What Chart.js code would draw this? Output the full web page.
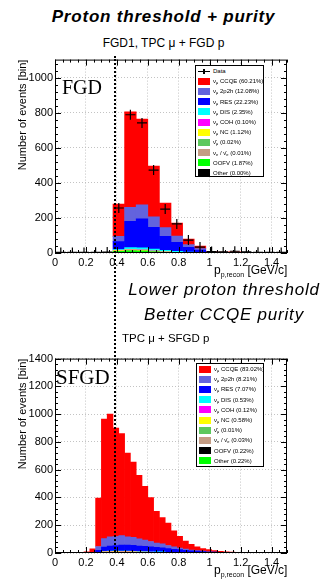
<!DOCTYPE html>
<html lang="en">
<head>
<meta charset="UTF-8">
<title>Proton threshold + purity</title>
<script src="https://cdn.jsdelivr.net/npm/chart.js"></script>
<style>
  body { margin: 0; background: #fff; }
  #page { position: relative; width: 325px; height: 579px; overflow: hidden; font-family: "Liberation Sans", Arial, sans-serif; color: #000; }
  canvas { position: absolute; left: 0; }
  .txt { position: absolute; line-height: 1; white-space: nowrap; }
  .big { font-size: 17px; font-style: italic; letter-spacing: 0.8px; text-align: center; }
  .det { font-family: "Liberation Serif", "Times New Roman", serif; }
  .xt { font-size: 12px; }
  .xt sub { font-size: 7px; vertical-align: -3px; }
  #vline { position: absolute; left: 114px; top: 56px; height: 496px; width: 0; border-left: 2px dotted #000; }
  .leg { position: absolute; border: 1px solid #000; background: #fff; font-size: 6px; box-sizing: border-box; }
  .leg .row { position: relative; padding-left: 17px; white-space: nowrap; }
  .leg .sw { position: absolute; left: 2px; width: 12px; height: 7px; }
  .leg sub { font-size: 4px; vertical-align: -1px; line-height: 0; }
  .dmark { position: absolute; left: 2px; width: 12px; height: 1px; background: #000; }
  .dmark::after { content: ""; position: absolute; left: 5px; top: -2px; width: 2px; height: 5px; background: #000; }
</style>
</head>
<body>
<div id="page">
  <canvas id="fgdChart" width="325" height="229" style="top:51px"></canvas>
  <canvas id="sfgdChart" width="325" height="229" style="top:350px"></canvas>

  <div class="txt big" style="left:0;top:8px;width:327px;font-weight:bold">Proton threshold + purity</div>
  <div class="txt" style="left:0;top:37px;width:327px;text-align:center;font-size:12px">FGD1, TPC μ + FGD p</div>
  <div class="txt det" style="left:62px;top:77px;font-size:20px">FGD</div>
  <div class="txt xt" style="left:214px;top:264px">p<sub>p,recon</sub> [GeV/c]</div>

  <div class="txt big" style="left:114px;top:281px;width:220px">Lower proton threshold</div>
  <div class="txt big" style="left:114px;top:306px;width:220px">Better CCQE purity</div>
  <div class="txt" style="left:122px;top:333px;font-size:11.5px">TPC μ + SFGD p</div>
  <div class="txt det" style="left:56px;top:367px;font-size:21px">SFGD</div>
  <div class="txt xt" style="left:214px;top:564px">p<sub>p,recon</sub> [GeV/c]</div>

  <div id="vline"></div>
  <div class="leg" id="legFGD" style="left:195px;top:65px;width:69px;height:112px"></div>
  <div class="leg" id="legSFGD" style="left:196px;top:363px;width:68px;height:104px"></div>
</div>

<script>
// bin low edges, p_p,recon [GeV/c]
const fgdBins = ['0', '0.075', '0.15', '0.225', '0.3', '0.375', '0.45', '0.525', '0.6', '0.675',
  '0.75', '0.825', '0.9', '0.975', '1.05', '1.125', '1.2', '1.275', '1.35', '1.425'];
const sfgdBins = ['0', '0.0375', '0.075', '0.1125', '0.15', '0.1875', '0.225', '0.2625', '0.3', '0.3375',
  '0.375', '0.4125', '0.45', '0.4875', '0.525', '0.5625', '0.6', '0.6375', '0.675', '0.7125',
  '0.75', '0.7875', '0.825', '0.8625', '0.9', '0.9375', '0.975', '1.0125', '1.05', '1.0875',
  '1.125', '1.1625', '1.2', '1.2375', '1.275', '1.3125', '1.35', '1.3875', '1.425', '1.4625'];

// legend order
const compNames = ['ν<sub>μ</sub> CCQE', 'ν<sub>μ</sub> 2p2h', 'ν<sub>μ</sub> RES', 'ν<sub>μ</sub> DIS',
  'ν<sub>μ</sub> COH', 'ν<sub>μ</sub> NC', 'ν̄<sub>μ</sub>', 'ν<sub>e</sub> / ν̄<sub>e</sub>', 'OOFV', 'Other'];
const compLabels = ['CCQE', '2p2h', 'RES', 'DIS', 'COH', 'NC', 'anti-numu', 'nue', 'OOFV', 'Other'];
const fgdColors = ['#ff0000', '#6363dd', '#0000ff', '#00ffff', '#ff00ff', '#ffff00', '#5cc85c', '#c49c84', '#00ff00', '#000000'];
const sfgdColors = ['#ff0000', '#6363dd', '#0000ff', '#00ffff', '#ff00ff', '#ffff00', '#5cc85c', '#c49c84', '#000000', '#00ff00'];
const fgdPct = ['60.21', '12.08', '22.23', '2.35', '0.10', '1.12', '0.02', '0.01', '1.87', '0.00'];
const sfgdPct = ['83.02', '8.21', '7.07', '0.53', '0.12', '0.58', '0.01', '0.03', '0.22', '0.22'];

// FGD1, TPC mu + FGD p
const fgdData  = [3, 3, 3, 4, 5, 257, 790, 743, 474, 251, 166, 74, 34, 8, 6, 10, 6, 4, 3, 3];
const fgdCCQE  = [0, 0, 0, 0, 0, 185, 545, 490, 290, 140, 75, 32, 15, 3, 2, 2, 1, 1, 1, 1];
const fgd2p2h  = [0, 0, 0, 0, 0, 30, 80, 80, 60, 50, 35, 15, 8, 2, 1, 1, 1, 0, 0, 0];
const fgdRES   = [0, 0, 0, 0, 0, 45, 150, 165, 125, 80, 52, 28, 14, 2, 1, 2, 1, 1, 1, 1];
const fgdDIS   = [0, 0, 0, 0, 0, 6, 12, 12, 10, 8, 5, 3, 2, 1, 1, 1, 1, 1, 1, 0];
const fgdCOH   = [0, 0, 0, 0, 0, 0, 1, 1, 1, 0, 0, 0, 0, 0, 0, 0, 0, 0, 0, 0];
const fgdNC    = [0, 0, 0, 0, 0, 4, 6, 6, 5, 3, 2, 1, 1, 0, 0, 0, 0, 0, 0, 0];
const fgdNubar = [0, 0, 0, 0, 0, 0, 0, 0, 0, 0, 0, 0, 0, 0, 0, 0, 0, 0, 0, 0];
const fgdNue   = [0, 0, 0, 0, 0, 0, 0, 0, 0, 0, 0, 0, 0, 0, 0, 0, 0, 0, 0, 0];
const fgdOOFV  = [0, 0, 0, 0, 0, 10, 12, 11, 6, 4, 2, 1, 0, 0, 0, 0, 0, 0, 0, 0];
const fgdOther = [0, 0, 0, 0, 0, 0, 0, 0, 0, 0, 0, 0, 0, 0, 0, 0, 0, 0, 0, 0];

// TPC mu + SFGD p
const sfgdCCQE  = [0, 0, 0, 0, 0, 7, 25, 348, 862, 883, 781, 735, 603, 543, 458, 387, 317, 228, 189, 161,
  116, 84, 57, 41, 28, 19, 15, 10, 7, 5, 4, 3, 2, 2, 2, 1, 1, 1, 1, 1];
const sfgd2p2h  = [0, 0, 0, 0, 0, 1, 3, 28, 60, 68, 65, 68, 60, 56, 52, 45, 38, 32, 28, 22,
  17, 12, 8, 6, 4, 3, 2, 1, 1, 1, 1, 0, 0, 0, 0, 0, 0, 0, 0, 0];
const sfgdRES   = [0, 0, 0, 0, 0, 0, 2, 14, 32, 36, 40, 44, 44, 44, 40, 38, 36, 32, 30, 28,
  24, 21, 18, 14, 12, 9, 7, 6, 4, 3, 2, 2, 2, 1, 1, 1, 1, 0, 0, 0];
const sfgdDIS   = [0, 0, 0, 0, 0, 0, 0, 1, 2, 3, 3, 3, 3, 3, 3, 3, 3, 3, 3, 2,
  2, 2, 1, 1, 1, 1, 0, 0, 0, 0, 0, 0, 0, 0, 0, 0, 0, 0, 0, 0];
const sfgdCOH   = [0, 0, 0, 0, 0, 0, 0, 0, 1, 1, 1, 1, 1, 1, 1, 1, 1, 1, 0, 0,
  0, 0, 0, 0, 0, 0, 0, 0, 0, 0, 0, 0, 0, 0, 0, 0, 0, 0, 0, 0];
const sfgdNC    = [0, 0, 0, 0, 0, 0, 0, 2, 4, 5, 5, 5, 4, 4, 4, 3, 3, 2, 2, 2,
  1, 1, 1, 0, 0, 0, 0, 0, 0, 0, 0, 0, 0, 0, 0, 0, 0, 0, 0, 0];
const sfgdNubar = [0, 0, 0, 0, 0, 0, 0, 0, 0, 0, 1, 0, 0, 0, 0, 0, 0, 0, 0, 0,
  0, 0, 0, 0, 0, 0, 0, 0, 0, 0, 0, 0, 0, 0, 0, 0, 0, 0, 0, 0];
const sfgdNue   = [0, 0, 0, 0, 0, 0, 0, 0, 0, 0, 0, 0, 1, 0, 0, 1, 0, 0, 1, 0,
  0, 0, 0, 0, 0, 0, 0, 0, 0, 0, 0, 0, 0, 0, 0, 0, 0, 0, 0, 0];
const sfgdOOFV  = [0, 0, 0, 0, 0, 0, 0, 1, 2, 2, 2, 2, 2, 2, 1, 1, 1, 1, 1, 0,
  0, 0, 0, 0, 0, 0, 0, 0, 0, 0, 0, 0, 0, 0, 0, 0, 0, 0, 0, 0];
const sfgdOther = [0, 0, 0, 0, 0, 0, 0, 1, 2, 2, 2, 2, 2, 2, 1, 1, 1, 1, 1, 0,
  0, 0, 0, 0, 0, 0, 0, 0, 0, 0, 0, 0, 0, 0, 0, 0, 0, 0, 0, 0];

const xTicks = [0, 0.2, 0.4, 0.6, 0.8, 1, 1.2, 1.4];

// ROOT style frame with inward ticks on all four sides
const rootFrame = {
  id: 'rootFrame',
  afterDraw(chart) {
    const {ctx, chartArea: a} = chart;
    const xs = chart.scales.xv, ys = chart.scales.y;
    ctx.save();
    ctx.strokeStyle = '#000';
    ctx.lineWidth = 1;
    ctx.strokeRect(a.left + 0.5, a.top + 0.5, a.right - a.left - 1, a.bottom - a.top - 1);
    ctx.beginPath();
    for (let i = 0; i * 0.05 <= xs.max + 1e-6; i++) {
      const px = Math.round(xs.getPixelForValue(i * 0.05)) + 0.5;
      const len = i % 4 === 0 ? 6 : 3;
      ctx.moveTo(px, a.bottom); ctx.lineTo(px, a.bottom - len);
      ctx.moveTo(px, a.top); ctx.lineTo(px, a.top + len);
    }
    for (let v = 0; v <= ys.max; v += 40) {
      const py = Math.round(ys.getPixelForValue(v)) + 0.5;
      const len = v % 200 === 0 ? 6 : 3;
      ctx.moveTo(a.left, py); ctx.lineTo(a.left + len, py);
      ctx.moveTo(a.right, py); ctx.lineTo(a.right - len, py);
    }
    ctx.stroke();
    ctx.restore();
  }
};

function buildLegend(id, pcts, colors, withData, rowH) {
  let html = '';
  const sw = (rowH - 7) / 2;
  if (withData) {
    html += `<div class="row" style="height:${rowH}px;line-height:${rowH}px"><span class="dmark" style="top:${rowH / 2}px"></span>Data</div>`;
  }
  compNames.forEach((n, i) => {
    html += `<div class="row" style="height:${rowH}px;line-height:${rowH}px"><span class="sw" style="top:${sw}px;background:${colors[i]}"></span>${n} (${pcts[i]}%)</div>`;
  });
  document.getElementById(id).innerHTML = html;
}

function makeChart(id, bins, parts, colors, yMax, axisH, data) {
  const datasets = parts.map((vals, i) => ({
    type: 'bar',
    label: compLabels[i],
    data: vals,
    backgroundColor: colors[i],
    borderWidth: 0,
    barPercentage: 1,
    categoryPercentage: 1,
    stack: 'mc',
    order: 1,
    xAxisID: 'x'
  })).reverse();
  if (data) {
    datasets.push({
      type: 'line',
      label: 'Data',
      data: data,
      showLine: false,
      pointStyle: 'cross',
      pointRadius: 5,
      pointBorderWidth: 1.2,
      borderColor: '#000',
      backgroundColor: '#000',
      stack: 'data',
      order: 0,
      xAxisID: 'x'
    });
  }
  return new Chart(document.getElementById(id), {
    type: 'bar',
    data: { labels: bins, datasets: datasets },
    options: {
      responsive: false,
      animation: false,
      devicePixelRatio: 1,
      layout: { padding: { left: 0, right: 38, top: 8, bottom: 0 } },
      plugins: { legend: { display: false }, tooltip: { enabled: false } },
      scales: {
        x: { display: false, stacked: true },
        xv: {
          type: 'linear', position: 'bottom', min: 0, max: 1.5, offset: false,
          afterBuildTicks: s => { s.ticks = xTicks.map(v => ({ value: v })); },
          afterFit: s => { s.height = axisH; },
          grid: { color: '#b4b4b4', lineWidth: 0.8, drawTicks: false, offset: false },
          border: { display: false, dash: [1, 2] },
          ticks: { padding: 3, color: '#000', font: { size: 11 }, maxRotation: 0,
            callback: v => String(Math.round(v * 10) / 10) }
        },
        y: {
          stacked: true, min: 0, max: yMax,
          afterFit: s => { s.width = 55; },
          grid: { color: '#b4b4b4', lineWidth: 0.8, drawTicks: false },
          border: { display: false, dash: [1, 2] },
          ticks: { stepSize: 200, includeBounds: false, padding: 2, color: '#000', font: { size: 11 },
            callback: v => String(v) },
          title: { display: true, text: 'Number of events [bin]', align: 'end', color: '#000',
            font: { size: 11 }, padding: { top: 16, bottom: 0 } }
        }
      }
    },
    plugins: [rootFrame]
  });
}

Chart.defaults.font.family = '"Liberation Sans", Arial, sans-serif';

makeChart('fgdChart', fgdBins,
  [fgdCCQE, fgd2p2h, fgdRES, fgdDIS, fgdCOH, fgdNC, fgdNubar, fgdNue, fgdOOFV, fgdOther],
  fgdColors, 1105, 27, fgdData);
makeChart('sfgdChart', sfgdBins,
  [sfgdCCQE, sfgd2p2h, sfgdRES, sfgdDIS, sfgdCOH, sfgdNC, sfgdNubar, sfgdNue, sfgdOOFV, sfgdOther],
  sfgdColors, 1400, 26, null);

buildLegend('legFGD', fgdPct, fgdColors, true, 10.2);
buildLegend('legSFGD', sfgdPct, sfgdColors, false, 10.2);
</script>
</body>
</html>
